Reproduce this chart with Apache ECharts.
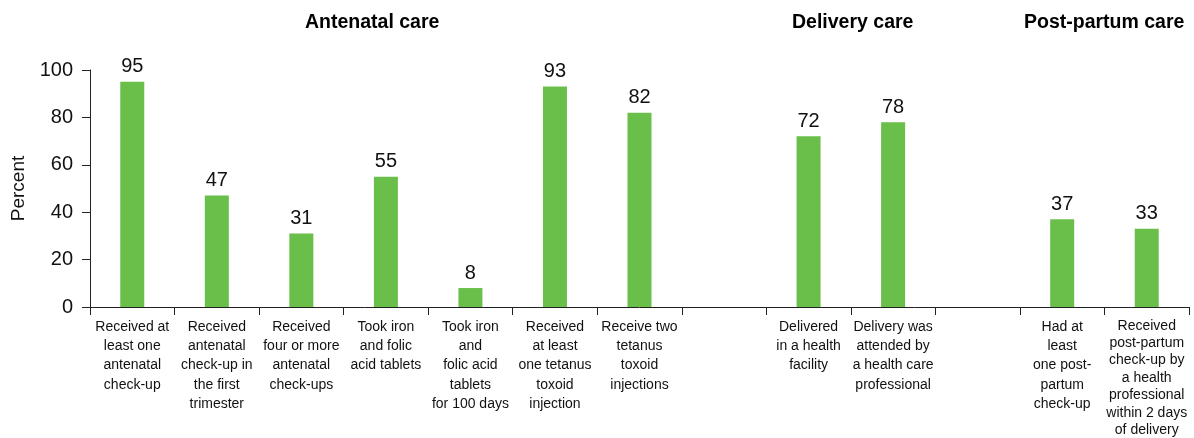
<!DOCTYPE html>
<html>
<head>
<meta charset="utf-8">
<script src="https://cdn.jsdelivr.net/npm/echarts@6/dist/echarts.min.js"></script>
<style>
  html, body { margin: 0; padding: 0; background: #fff; }
  #chart { width: 1194px; height: 438px; }
</style>
</head>
<body>
<div id="chart"></div>
<script>
// categories (blank slots separate the three groups)
const categories = [
  'Received at\nleast one\nantenatal\ncheck-up',
  'Received\nantenatal\ncheck-up in\nthe first\ntrimester',
  'Received\nfour or more\nantenatal\ncheck-ups',
  'Took iron\nand folic\nacid tablets',
  'Took iron\nand\nfolic acid\ntablets\nfor 100 days',
  'Received\nat least\none tetanus\ntoxoid\ninjection',
  'Receive two\ntetanus\ntoxoid\ninjections',
  '',
  'Delivered\nin a health\nfacility',
  'Delivery was\nattended by\na health care\nprofessional',
  '',
  'Had at\nleast\none post-\npartum\ncheck-up',
  'Received\npost-partum\ncheck-up by\na health\nprofessional\nwithin 2 days\nof delivery'
];
const percent = [95, 47, 31, 55, 8, 93, 82, null, 72, 78, null, 37, 33];
const yTicks = [0, 20, 40, 60, 80, 100];
const groupTitles = ['Antenatal care', 'Delivery care', 'Post-partum care'];

let myChart = echarts.init(document.getElementById('chart'));
const font = '"Liberation Sans", Arial, sans-serif';

// the last, longest label is set a little tighter so it fits
const xData = categories.map(function (c, i) {
    return i === categories.length - 1 ? { value: c, textStyle: { lineHeight: 17.4 } } : c;
});

let option = {
    animation: false,
    grid: { left: 90, right: 5, top: 70, bottom: 131, outerBoundsMode: 'none' },
    graphic: [
        { type: 'text', left: 305, top: 13, style: { text: groupTitles[0], font: 'bold 19.5px ' + font, fill: '#000' } },
        { type: 'text', left: 792, top: 13, style: { text: groupTitles[1], font: 'bold 19.5px ' + font, fill: '#000' } },
        { type: 'text', left: 1024, top: 13, style: { text: groupTitles[2], font: 'bold 19.5px ' + font, fill: '#000' } }
    ],
    xAxis: {
        type: 'category',
        data: xData,
        axisLine: { lineStyle: { color: '#222', width: 1 } },
        axisTick: { show: true, length: 8, lineStyle: { color: '#222' } },
        axisLabel: {
            interval: 0,
            margin: 10,
            fontSize: 14,
            lineHeight: 19.4,
            color: '#111',
            fontFamily: font
        }
    },
    yAxis: {
        type: 'value',
        min: yTicks[0],
        max: yTicks[yTicks.length - 1],
        interval: 20,
        name: 'Percent',
        nameLocation: 'middle',
        nameGap: 61,
        nameTextStyle: { fontSize: 19, color: '#111', fontFamily: font },
        splitLine: { show: false },
        axisLine: { show: true, lineStyle: { color: '#222', width: 1 } },
        axisTick: { show: true, length: 8, lineStyle: { color: '#222' } },
        axisLabel: { margin: 17, fontSize: 20, color: '#111', fontFamily: font }
    },
    series: [
        {
            type: 'bar',
            data: percent,
            barWidth: 24,
            itemStyle: { color: '#6abf4b' },
            label: {
                show: true,
                position: 'top',
                distance: 5,
                fontSize: 20,
                color: '#111',
                fontFamily: font
            }
        }
    ]
};
myChart.setOption(option);
</script>
</body>
</html>
